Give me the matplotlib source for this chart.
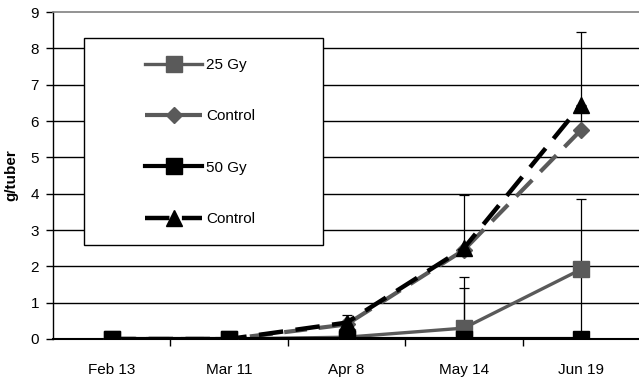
import matplotlib
matplotlib.use("Agg")
import matplotlib.pyplot as plt
from matplotlib.patches import Rectangle
import numpy as np

plt.rcParams['font.family'] = ['Liberation Sans', 'DejaVu Sans']

dates = ["Feb 13", "Mar 11", "Apr 8", "May 14", "Jun 19"]
gy25 = [0, 0, 0.05, 0.3, 1.92]
gy25_err = [0, 0, 0, 1.42, 1.94]
ctrl_a = [0, 0, 0.4, 2.45, 5.76]
ctrl_a_err = [0, 0, 0, 0, 0.65]
gy50 = [0, 0, 0, 0, 0]
gy50_err = [0, 0, 0, 1.4, 1.9]
ctrl_b = [0, 0, 0.45, 2.5, 6.45]
ctrl_b_err = [0, 0, 0.22, 1.46, 2.0]
labels = ["25 Gy", "Control", "50 Gy", "Control"]
yticks = list(range(0, 10))

W, H = 639, 378
fig = plt.figure(figsize=(W / 100, H / 100), dpi=100)
AX_L, AX_B, AX_W, AX_H = 53, 339, 587, 327  # pixels
ax = fig.add_axes([AX_L / W, 1 - AX_B / H, AX_W / W, AX_H / H])

def ax_frac(px, py):
    return (px - AX_L) / AX_W, (AX_B - py) / AX_H

x = np.arange(len(dates))
gray = "#5a5a5a"
ms = 11
ekw = dict(ecolor="black", elinewidth=0.9, capsize=3.6, capthick=0.9)

for vals, errs in [(gy25, gy25_err), (ctrl_a, ctrl_a_err), (gy50, gy50_err), (ctrl_b, ctrl_b_err)]:
    ax.errorbar(x, vals, yerr=[np.zeros(len(errs)), errs], fmt="none", zorder=2, **ekw)

l1, = ax.plot(x, gy25, color=gray, lw=2.4, marker="s", ms=ms, mfc=gray, mec=gray,
              zorder=3, label=labels[0])
l2, = ax.plot(x, ctrl_a, color=gray, lw=3.0, ls=(0, (5.5, 2.8)), marker="D", ms=8.5,
              mfc=gray, mec=gray, zorder=3, label=labels[1])
l3, = ax.plot(x, gy50, color="black", lw=3.0, marker="s", ms=ms, mfc="black", mec="black",
              zorder=4, label=labels[2])
l4, = ax.plot(x, ctrl_b, color="black", lw=3.2, ls=(0, (5.5, 2.8)), marker="^", ms=11.5,
              mfc="black", mec="black", zorder=5, label=labels[3])

ax.set_xlim(-0.5, 4.5)
ax.set_ylim(0, 9)
ax.set_yticks(yticks)
ax.set_yticklabels([str(v) for v in yticks])
ax.set_xticks(x)
ax.set_xticklabels(dates)
ax.set_xticks(np.arange(0.5, 4.5, 1), minor=True)
ax.tick_params(axis="x", which="major", length=0, labelsize=11, pad=17)
ax.tick_params(axis="x", which="minor", length=5, width=1, direction="out", color="black")
ax.tick_params(axis="y", length=5, width=1, direction="out", labelsize=11, pad=5)

for v in yticks[1:-1]:
    ax.axhline(v, color="black", lw=1, zorder=1)

ax.spines["right"].set_visible(False)
ax.spines["top"].set_color("#808080")
ax.spines["top"].set_linewidth(1.2)
ax.spines["left"].set_linewidth(1)
ax.spines["bottom"].set_linewidth(1.5)

ax.set_ylabel("g/tuber", fontsize=11, fontweight="bold", labelpad=9)

# legend box
bx0, by0 = ax_frac(84, 245)
bx1, by1 = ax_frac(323, 38)
rect = Rectangle((bx0, by0), bx1 - bx0, by1 - by0, transform=ax.transAxes,
                 facecolor="white", edgecolor="black", lw=1, zorder=6)
ax.add_patch(rect)

ax_x, ax_y = ax_frac(125, 38)
leg = ax.legend(handles=[l1, l2, l3, l4], loc="upper left",
                bbox_to_anchor=(ax_x, ax_y), fontsize=11,
                frameon=False, handlelength=3.75, handletextpad=0.25,
                labelspacing=2.45, borderpad=1.3, borderaxespad=0, numpoints=1)
leg.set_zorder(7)

fig.savefig("out.png", dpi=100)
